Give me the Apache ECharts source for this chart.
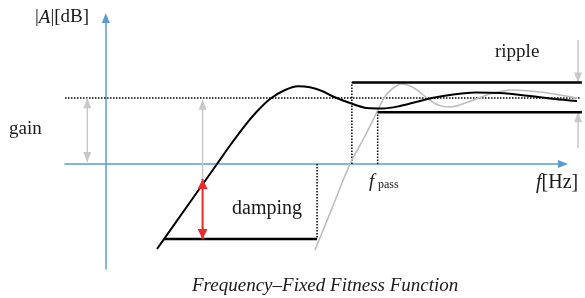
<!DOCTYPE html>
<html><head><meta charset="utf-8">
<script src="https://cdn.jsdelivr.net/npm/echarts@6/dist/echarts.min.js"></script>
<style>html,body{margin:0;padding:0;background:#fff}#c{width:585px;height:298px}</style>
</head><body><div id="c"></div>
<script>
// ---- data (x: frequency units, y: dB) ----
const responseX = [1.884, 2.987, 4.091, 4.569, 5.047, 5.525, 6.039, 6.555, 7.069, 7.510, 7.952, 8.357, 8.982, 9.608, 10.196, 10.821, 11.410, 11.998, 12.844, 13.580, 14.499, 15.603, 16.522, 17.331];
const responseY = [-3.864, -1.932, 0, 0.841, 1.636, 2.341, 2.955, 3.341, 3.532, 3.486, 3.318, 3.068, 2.773, 2.545, 2.523, 2.636, 2.818, 3.0, 3.168, 3.25, 3.227, 3.091, 2.955, 2.864];
const targetX = [7.695, 8.357, 8.982, 9.497, 9.975, 10.233, 10.527, 10.895, 11.336, 11.814, 12.219, 12.660, 13.322, 14.131, 14.940, 15.970, 16.706, 17.331];
const targetY = [-3.909, -1.9, 0, 1.182, 2.364, 3.0, 3.409, 3.636, 3.455, 3.0, 2.682, 2.591, 2.818, 3.182, 3.364, 3.273, 3.136, 3.0];

const gainLevel = 3.0;
const gainLineX = [-1.5, 17.44];
const rippleTop = 3.7;
const rippleBottom = 2.35;
const fStop = 9.05;
const fPass = 10.0;
const bandEnd = 17.51;
const dampLevel = -3.41;
const dampStart = 2.14;
const dampEnd = 7.77;

const gainArrowX = -0.68;
const gainArrowY = [0.09, 2.99];
const dampArrowX = 3.56;
const dampGrayY = [2.92, -3.41];
const dampRedY = [-0.68, -3.41];
const rippleArrowX = 17.37;
const rippleDownY = [5.64, 3.7];
const rippleUpY = [0.73, 2.35];

// ---- helpers ----
const GRAY = '#c8c8c8', RED = '#ee2b2b', BLACK = '#000';
const upHead = (size) => ({symbol: 'triangle', symbolSize: size, symbolOffset: [0, '50%']});
const downHead = (size) => ({symbol: 'path://M0,0L10,0L5,10Z', symbolSize: size, symbolOffset: [0, '-50%']});

function seg(pts, style, extra) {
  return Object.assign({
    type: 'line', data: pts, showSymbol: false, symbol: 'none', clip: false,
    xAxisIndex: 1, yAxisIndex: 1,
    lineStyle: style, silent: true, animation: false, z: 3
  }, extra || {});
}
function arrow(x, ys, color, width, topHead, bottomHead, size) {
  const top = Math.max(ys[0], ys[1]), bot = Math.min(ys[0], ys[1]);
  const d0 = Object.assign({value: [x, top]}, topHead ? upHead(size) : {symbol: 'none'});
  const d1 = Object.assign({value: [x, bot]}, bottomHead ? downHead(size) : {symbol: 'none'});
  return {
    type: 'line', data: [d0, d1], showSymbol: true, showAllSymbol: true, clip: false,
    xAxisIndex: 1, yAxisIndex: 1,
    lineStyle: {color: color, width: width}, itemStyle: {color: color, borderWidth: 0},
    silent: true, animation: false, z: 4
  };
}

const dotted = {color: BLACK, width: 1.5, type: [1.5, 1.5]};
const thick = {color: BLACK, width: 2.5};

const series = [
  seg([[gainLineX[0], gainLevel], [gainLineX[1], gainLevel]], dotted),
  seg([[fStop, 0], [fStop, rippleTop]], dotted),
  seg([[fPass, 0], [fPass, rippleBottom]], dotted),
  seg([[dampEnd, 0], [dampEnd, dampLevel]], dotted),
  arrow(gainArrowX, gainArrowY, GRAY, 1.5, true, true, [8, 10]),
  arrow(dampArrowX, dampGrayY, GRAY, 1.5, true, false, [8, 10]),
  arrow(rippleArrowX, rippleDownY, GRAY, 1.5, false, true, [8, 10]),
  arrow(rippleArrowX, rippleUpY, GRAY, 1.5, true, false, [8, 10]),
  seg(targetX.map((x, i) => [x, targetY[i]]), {color: '#bdbdbd', width: 1.6}, {smooth: 0.35, z: 5}),
  seg([[fStop, rippleTop], [bandEnd, rippleTop]], thick, {z: 6}),
  seg([[fPass, rippleBottom], [bandEnd, rippleBottom]], thick, {z: 6}),
  seg([[dampStart, dampLevel], [dampEnd, dampLevel]], thick, {z: 6}),
  seg(responseX.map((x, i) => [x, responseY[i]]), {color: BLACK, width: 2}, {smooth: 0.3, z: 7}),
  Object.assign(arrow(dampArrowX, dampRedY, RED, 2, true, true, [10, 10]), {z: 8})
];

const serif = '"Liberation Serif", "DejaVu Serif", serif';
const txt = (left, top, text, size, extra) => ({
  type: 'text', left: left, top: top, silent: true,
  style: Object.assign({text: text, font: size + 'px ' + serif, fill: '#1a1a1a'}, extra || {})
});
const hidden = {show: false};

const chart = echarts.init(document.getElementById('c'), null, {renderer: 'canvas'});
chart.setOption({
  animation: false,
  backgroundColor: '#fff',
  grid: [
    {left: 65, right: 22, top: 18, bottom: 29, containLabel: false},
    {left: 0, right: 0, top: 0, bottom: 0, containLabel: false}
  ],
  xAxis: [{
    gridIndex: 0, type: 'value', min: -1.5, max: 16.816,
    axisLine: {onZero: true, lineStyle: {color: '#5b9bd5', width: 1.5}, symbol: ['none', 'triangle'], symbolSize: [8, 10]},
    axisTick: hidden, axisLabel: hidden, splitLine: hidden
  }, {
    gridIndex: 1, type: 'value', min: -3.8906, max: 17.625, show: false, splitLine: hidden
  }],
  yAxis: [{
    gridIndex: 0, type: 'value', min: -4.773, max: 6.636,
    axisLine: {onZero: true, lineStyle: {color: '#5b9bd5', width: 1.5}, symbol: ['none', 'triangle'], symbolSize: [8, 10]},
    axisTick: hidden, axisLabel: hidden, splitLine: hidden
  }, {
    gridIndex: 1, type: 'value', min: -6.0909, max: 7.4545, show: false, splitLine: hidden
  }],
  series: series,
  graphic: [
    {type: 'text', left: 35, top: 8, silent: true, style: {
      text: '|{i|A}|[dB]', font: '19px ' + serif, fill: '#1a1a1a',
      rich: {i: {fontStyle: 'italic', fontSize: 19, fontFamily: serif}}}},
    txt(9, 120, 'gain', 19),
    txt(495, 43, 'ripple', 19),
    txt(232, 199, 'damping', 20),
    txt(369, 172, 'f', 19, {font: 'italic 19px ' + serif}),
    txt(378, 179, 'pass', 12),
    {type: 'text', left: 536, top: 173, silent: true, style: {
      text: '{i|f}[Hz]', font: '20px ' + serif, fill: '#1a1a1a',
      rich: {i: {fontStyle: 'italic', fontSize: 20, fontFamily: serif}}}},
    {type: 'text', left: 192, top: 276, silent: true, style: {
      text: 'Frequency\u2013Fixed Fitness Function', font: 'italic 19px ' + serif, fill: '#1a1a1a'}}
  ]
});
</script></body></html>
